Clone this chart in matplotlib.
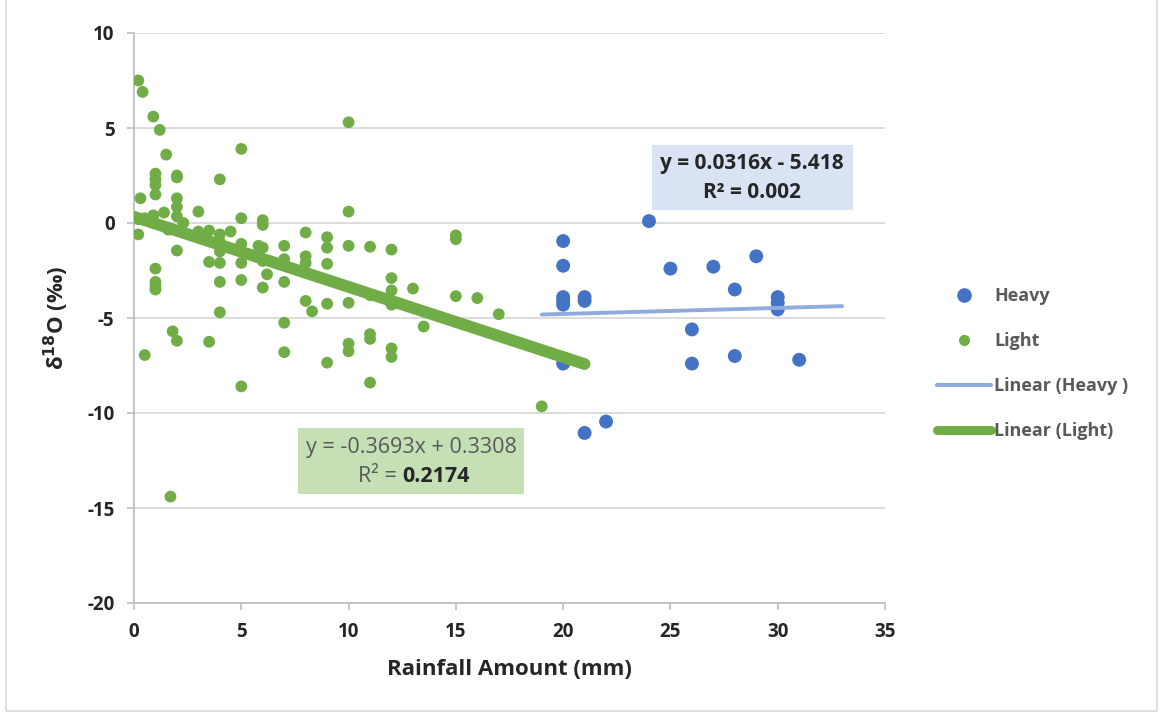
import matplotlib
matplotlib.use("Agg")
import matplotlib.pyplot as plt
from matplotlib.lines import Line2D
from matplotlib.patches import Rectangle

plt.rcParams['font.family'] = ['Open Sans', 'DejaVu Sans']
plt.rcParams['axes.unicode_minus'] = False

# data ------------------------------------------------------------
light_x = [0.2, 0.4, 0.9, 1.2, 1.5, 5.0, 10.0, 4.0,
           1.0, 1.0, 1.0, 1.0, 2.0, 2.0, 2.0, 0.3, 10.0, 3.0, 5.0, 6.0, 6.0,
           0.2, 0.2, 0.5, 0.9, 1.4, 2.0, 2.0, 2.3, 1.6, 3.0, 3.5, 4.0, 4.5,
           2.0, 1.0, 1.0, 1.0, 1.0, 3.5, 4.0, 4.0, 4.0, 4.0,
           5.0, 5.0, 5.0, 5.0, 5.8, 6.0, 6.0, 6.0, 6.2, 7.0, 7.0, 7.0,
           8.0, 8.0, 8.0, 8.0, 8.3, 9.0, 9.0, 9.0, 9.0, 9.0,
           10.0, 10.0, 10.0, 10.0, 11.0, 11.0, 11.0, 11.0, 11.0,
           12.0, 12.0, 12.0, 12.0, 12.0, 12.0, 13.0, 13.5, 15.0, 15.0, 15.0,
           16.0, 17.0, 19.0, 0.5, 1.8, 2.0, 1.7, 3.5, 4.0, 5.0, 7.0, 7.0]
light_y = [7.5, 6.9, 5.6, 4.9, 3.6, 3.9, 5.3, 2.3,
           2.6, 2.3, 2.0, 1.5, 2.5, 2.4, 1.3, 1.3, 0.6, 0.6, 0.25, 0.15, -0.1,
           -0.6, 0.2, 0.25, 0.4, 0.55, 0.85, 0.35, 0.0, -0.35, -0.45, -0.4, -0.6, -0.45,
           -1.45, -2.4, -3.1, -3.3, -3.5, -2.05, -1.0, -1.5, -2.1, -3.1,
           -1.1, -1.5, -2.1, -3.0, -1.2, -1.3, -2.0, -3.4, -2.7, -1.2, -1.9, -3.1,
           -0.5, -1.75, -2.1, -4.1, -4.65, -0.75, -1.3, -2.15, -4.25, -7.35,
           -1.2, -4.2, -6.35, -6.75, -1.25, -3.8, -5.85, -6.1, -8.4,
           -1.4, -2.9, -3.55, -4.3, -6.6, -7.05, -3.45, -5.45, -0.65, -0.85, -3.85,
           -3.95, -4.8, -9.65, -6.95, -5.7, -6.2, -14.4, -6.25, -4.7, -8.6, -5.25, -6.8]

heavy_x = [20, 20, 20, 20, 20, 20, 21, 21, 21, 22, 24, 25, 26, 26,
           27, 28, 28, 29, 30, 30, 30, 31]
heavy_y = [-0.95, -2.25, -3.9, -4.1, -4.3, -7.4, -3.9, -4.1, -11.05, -10.45,
           0.1, -2.4, -5.6, -7.4, -2.3, -3.5, -7.0, -1.75, -3.9, -4.2, -4.55, -7.2]

# trendline coefficients (slope, intercept) and x range
heavy_fit = (0.0316, -5.418)
heavy_range = (19, 33)
light_fit = (-0.3693, 0.3308)
light_range = (0, 21)

blue = '#4472c4'
green = '#70ad47'
txt = '#595959'
dark = '#262626'

# plot ------------------------------------------------------------
fig = plt.figure(figsize=(11.63, 7.17), dpi=100)
ax = fig.add_axes([134/1163, 1-603/717, (885-134)/1163, (603-33)/717])

ax.scatter(heavy_x, heavy_y, s=100, color=blue, edgecolors='none', zorder=3)
ax.scatter(light_x, light_y, s=72, color=green, edgecolors='none', zorder=3)

hx = list(heavy_range)
ax.plot(hx, [heavy_fit[0]*v + heavy_fit[1] for v in hx], color='#8faadc', lw=2.8,
        solid_capstyle='round', zorder=4)
lx = list(light_range)
ax.plot(lx, [light_fit[0]*v + light_fit[1] for v in lx], color=green, lw=8.5,
        solid_capstyle='round', zorder=4)

ax.set_xlim(0, 35)
ax.set_ylim(-20, 10)
ax.set_xticks(range(0, 36, 5))
ax.set_yticks(range(-20, 11, 5))
ax.grid(axis='y', color='#d9d9d9', lw=1.3, zorder=0)
ax.set_axisbelow(True)
for s in ['top', 'right']:
    ax.spines[s].set_visible(False)
for s in ['left', 'bottom']:
    ax.spines[s].set_color('#bfbfbf')
    ax.spines[s].set_linewidth(1.3)
ax.tick_params(length=5, width=1.2, color='#bfbfbf', labelsize=13.5)
ax.tick_params(axis='x', pad=9)
ax.tick_params(axis='y', pad=9)
for lab in ax.get_xticklabels() + ax.get_yticklabels():
    lab.set_fontweight('bold')
    lab.set_color(dark)

ax.set_xlabel('Rainfall Amount (mm)', fontsize=16, fontweight='bold', color=dark, labelpad=12)
ax.set_ylabel(r'δ$^{\mathbf{18}}$O (‰)', fontsize=16, fontweight='bold', color=dark, labelpad=12)

# equation boxes
fig.patches.append(Rectangle((652/1163, 1-210/717), 201/1163, 65/717, transform=fig.transFigure,
                             facecolor='#dae3f3', edgecolor='none', zorder=5))
fig.text(752/1163, 1-164/717, 'y = 0.0316x - 5.418', ha='center', va='center',
         fontsize=15, fontweight='bold', color=dark, zorder=6)
fig.text(752/1163, 1-193/717, 'R² = 0.002', ha='center', va='center',
         fontsize=15, fontweight='bold', color=dark, zorder=6)

fig.patches.append(Rectangle((298/1163, 1-494/717), 226/1163, 66/717, transform=fig.transFigure,
                             facecolor='#c5e0b4', edgecolor='none', zorder=5))
fig.text(411/1163, 1-448/717, 'y = -0.3693x + 0.3308', ha='center', va='center',
         fontsize=15.5, color=txt, zorder=6)
fig.text(402/1163, 1-477/717, 'R² = ', ha='right', va='center',
         fontsize=15.5, color=txt, zorder=6)
fig.text(402/1163, 1-477/717, '0.2174', ha='left', va='center',
         fontsize=15.5, fontweight='bold', color=dark, zorder=6)

# legend
handles = [Line2D([], [], ls='none', marker='o', ms=10.5, color=blue, mec='none'),
           Line2D([], [], ls='none', marker='o', ms=8, color=green, mec='none'),
           Line2D([], [], color='#8faadc', lw=3, solid_capstyle='round'),
           Line2D([], [], color=green, lw=6.5, solid_capstyle='round')]
labels = ['Heavy', 'Light', 'Linear (Heavy )', 'Linear (Light)']
leg = fig.legend(handles, labels, loc='upper left', bbox_to_anchor=(930/1163, 1-280/717),
                 frameon=False, fontsize=13, handlelength=3.0, handletextpad=0.15,
                 labelspacing=1.5, borderaxespad=0)
for t in leg.get_texts():
    t.set_color(txt)
    t.set_fontweight('bold')

# outer frame
fig.patches.append(Rectangle((6/1163, 6/717), 1151/1163, 1.2, transform=fig.transFigure,
                             facecolor='none', edgecolor='#d9d9d9', lw=1.2))

fig.savefig('out.png', dpi=100)
